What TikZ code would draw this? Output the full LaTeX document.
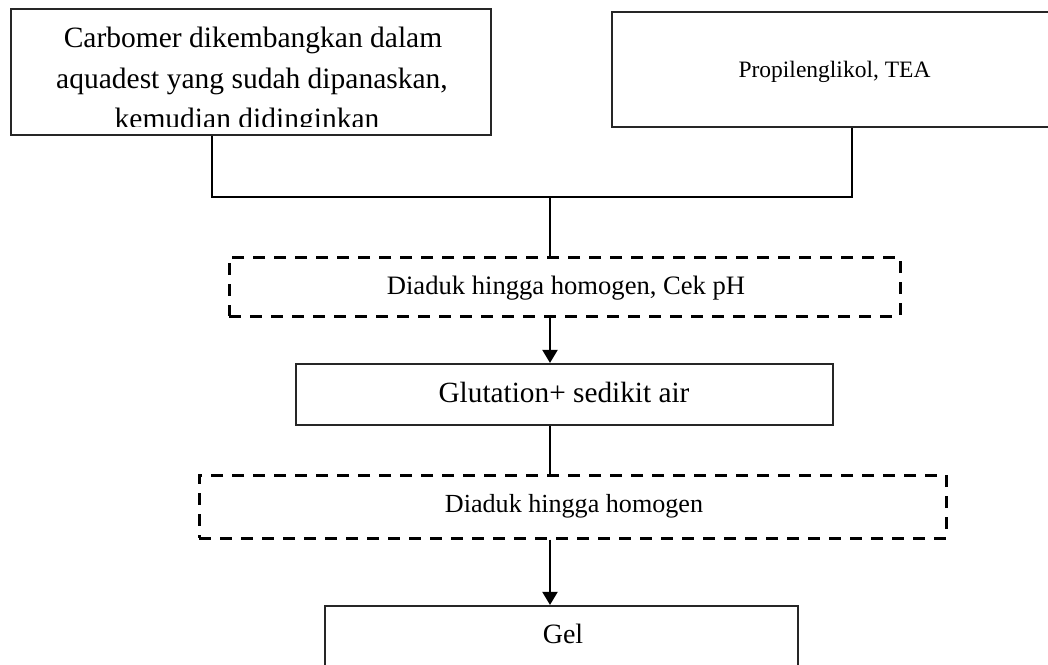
\documentclass[tikz,border=0pt]{standalone}
\usepackage{fontspec}
\setmainfont{Liberation Serif}
\usetikzlibrary{arrows.meta}
\tikzset{
  boxline/.style={draw=black!85, line width=2.2pt, inner sep=0pt, fill=none},
  dashbox/.style={draw=black, line width=3pt, dash pattern=on 12pt off 9pt, inner sep=0pt},
  conn/.style={draw=black, line width=2pt},
  arr/.style={conn, -{Triangle[length=13pt,width=15pt]}},
  lbl/.style={anchor=base, inner sep=0pt},
}
\begin{document}
\begin{tikzpicture}[x=1pt,y=-1pt]
\useasboundingbox (0,0) rectangle (1048,664);
% boxes
\node[boxline, minimum width=480pt, minimum height=126pt] (b1) at (251,72) {};
\node[boxline, minimum width=444pt, minimum height=115pt] (b2) at (834,69.5) {};
\node[dashbox, minimum width=671pt, minimum height=59pt] (d1) at (564.5,286.5) {};
\node[boxline, minimum width=537pt, minimum height=61pt] (b3) at (564.5,394.5) {};
\node[dashbox, minimum width=747pt, minimum height=63pt] (d2) at (572.5,506.5) {};
\node[boxline, minimum width=473pt, minimum height=100pt] (b4) at (561.5,656) {};
% texts
\begin{scope}
  \clip (12,10) rectangle (490,126);
  \node[lbl, font=\fontsize{29.5}{36}\selectfont] (t1a) at (253,47) {Carbomer dikembangkan dalam};
  \node[lbl, font=\fontsize{29.5}{36}\selectfont] (t1b) at (252,88) {aquadest yang sudah dipanaskan,};
  \node[lbl, font=\fontsize{29.5}{36}\selectfont] (t1c) at (247,128) {kemudian didinginkan};
\end{scope}
\node[lbl, font=\fontsize{23.5}{28}\selectfont] (t2) at (834.5,77) {Propilenglikol, TEA};
\node[lbl, font=\fontsize{26.6}{32}\selectfont] (t3) at (566,294) {Diaduk hingga homogen, Cek pH};
\node[lbl, font=\fontsize{29.3}{34}\selectfont] (t4) at (564,402) {Glutation+ sedikit air};
\node[lbl, font=\fontsize{26.1}{32}\selectfont] (t5) at (574,512) {Diaduk hingga homogen};
\node[lbl, font=\fontsize{28}{32}\selectfont] (t6) at (563,643) {Gel};
% connectors
\coordinate (c1) at (212,197);
\coordinate (c2) at (852,197);
\coordinate (j) at (550,197);
\draw[conn] (c1 |- b1.south) -- (c1) -- (c2) -- (c2 |- b2.south);
\draw[conn] (j) -- (j |- d1.north);
\draw[arr] (j |- d1.south) -- (j |- b3.north);
\draw[conn] (j |- b3.south) -- (j |- d2.north);
\draw[arr] (j |- d2.south) -- (j |- b4.north);
\end{tikzpicture}
\end{document}
